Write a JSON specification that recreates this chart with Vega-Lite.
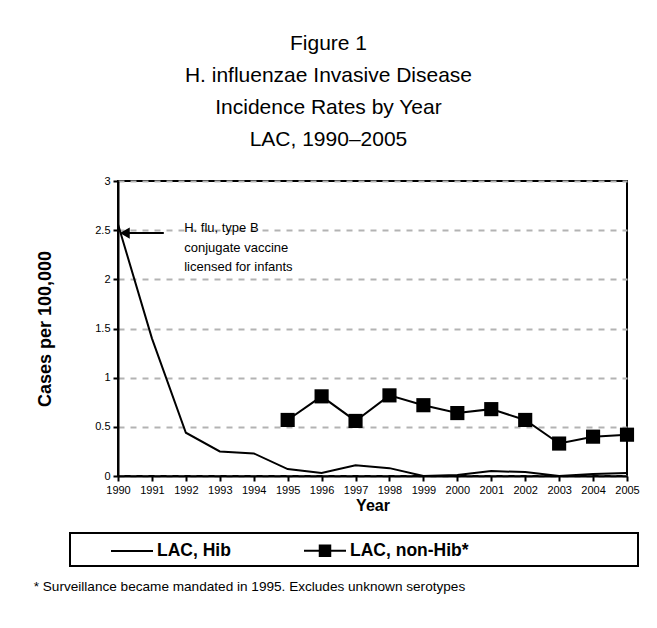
{
  "$schema": "https://vega.github.io/schema/vega-lite/v6.json",
  "padding": {"left": 32, "top": 33, "right": 10, "bottom": 5},
  "background": "white",
  "title": {
    "text": ["Figure 1", "H. influenzae Invasive Disease", "Incidence Rates by Year", "LAC, 1990–2005"],
    "fontSize": 21, "fontWeight": "normal", "lineHeight": 32, "anchor": "middle", "frame": "bounds", "offset": 24, "dx": -8, "color": "black", "font": "Liberation Sans"
  },
  "vconcat": [
    {
      "width": 509,
      "height": 295,
      "title": {
        "text": "* Surveillance became mandated in 1995. Excludes unknown serotypes",
        "orient": "bottom", "anchor": "start", "frame": "bounds", "fontSize": 13.6, "fontWeight": "normal", "offset": 67, "dx": -3, "color": "black", "font": "Liberation Sans"
      },
      "encoding": {
        "x": {"field": "year", "type": "quantitative",
          "scale": {"domain": [1990, 2005], "nice": false, "zero": false},
          "axis": {"values": [1990,1991,1992,1993,1994,1995,1996,1997,1998,1999,2000,2001,2002,2003,2004,2005], "format": "d", "title": "Year", "titleFontSize": 16, "titleFontWeight": "bold", "titlePadding": 2, "labelPadding": 3, "labelOverlap": false, "labelFlush": false, "labelBound": false, "grid": false}},
        "y": {"field": "value", "type": "quantitative",
          "scale": {"domain": [0, 3], "nice": false},
          "axis": {"values": [0, 0.5, 1, 1.5, 2, 2.5, 3], "format": "~g", "title": "Cases per 100,000", "titleFontSize": 18, "titleFontWeight": "bold", "titlePadding": 40, "labelPadding": 3, "labelFlush": false}}
      },
      "layer": [
        {
          "data": {"values": [
            {"year": 1990, "value": 2.56, "series": "LAC, Hib"},
            {"year": 1991, "value": 1.40, "series": "LAC, Hib"},
            {"year": 1992, "value": 0.44, "series": "LAC, Hib"},
            {"year": 1993, "value": 0.25, "series": "LAC, Hib"},
            {"year": 1994, "value": 0.23, "series": "LAC, Hib"},
            {"year": 1995, "value": 0.07, "series": "LAC, Hib"},
            {"year": 1996, "value": 0.03, "series": "LAC, Hib"},
            {"year": 1997, "value": 0.11, "series": "LAC, Hib"},
            {"year": 1998, "value": 0.08, "series": "LAC, Hib"},
            {"year": 1999, "value": 0.0, "series": "LAC, Hib"},
            {"year": 2000, "value": 0.01, "series": "LAC, Hib"},
            {"year": 2001, "value": 0.05, "series": "LAC, Hib"},
            {"year": 2002, "value": 0.04, "series": "LAC, Hib"},
            {"year": 2003, "value": 0.0, "series": "LAC, Hib"},
            {"year": 2004, "value": 0.02, "series": "LAC, Hib"},
            {"year": 2005, "value": 0.03, "series": "LAC, Hib"},
            {"year": 1995, "value": 0.57, "series": "LAC, non-Hib*"},
            {"year": 1996, "value": 0.81, "series": "LAC, non-Hib*"},
            {"year": 1997, "value": 0.56, "series": "LAC, non-Hib*"},
            {"year": 1998, "value": 0.82, "series": "LAC, non-Hib*"},
            {"year": 1999, "value": 0.72, "series": "LAC, non-Hib*"},
            {"year": 2000, "value": 0.64, "series": "LAC, non-Hib*"},
            {"year": 2001, "value": 0.68, "series": "LAC, non-Hib*"},
            {"year": 2002, "value": 0.57, "series": "LAC, non-Hib*"},
            {"year": 2003, "value": 0.33, "series": "LAC, non-Hib*"},
            {"year": 2004, "value": 0.40, "series": "LAC, non-Hib*"},
            {"year": 2005, "value": 0.42, "series": "LAC, non-Hib*"}
          ]},
          "layer": [
            {
              "mark": {"type": "line", "strokeWidth": 2},
              "encoding": {
                "color": {"field": "series", "type": "nominal",
                  "scale": {"domain": ["LAC, Hib", "LAC, non-Hib*", "pad"], "range": ["black", "black", "white"]},
                  "legend": {
                    "title": null, "orient": "none", "legendX": -48, "legendY": 352, "direction": "horizontal",
                    "strokeColor": "black", "padding": 6, "symbolOffset": 44.5, "columnPadding": 38,
                    "labelFontSize": 17.5, "labelFontWeight": "bold", "labelColor": "black", "labelOffset": 13.5,
                    "symbolSize": 441, "symbolStrokeWidth": 2,
                    "labelExpr": "datum.value == 'pad' ? 'MMM' : datum.label",
                    "encode": {
                      "legend": {"update": {"strokeWidth": {"value": 2}}},
                      "labels": {"update": {"opacity": {"signal": "datum.value == 'pad' ? 0 : 1"}}},
                      "symbols": {"update": {
                        "shape": {"signal": "datum.value == 'LAC, non-Hib*' ? 'M-2,0H2M-0.5,-0.5H0.5V0.5H-0.5Z' : 'M-2,0H2'"},
                        "fill": {"value": "black"}, "stroke": {"value": "black"}, "strokeWidth": {"value": 2},
                        "opacity": {"signal": "datum.value == 'pad' ? 0 : 1"}
                      }}
                    }
                  }}
              }
            },
            {
              "transform": [{"filter": "datum.series == 'LAC, non-Hib*'"}],
              "mark": {"type": "square", "filled": true, "color": "black", "size": 200, "opacity": 1},
              "encoding": {}
            }
          ]
        },
        {
          "data": {"values": [{"year": 1990.12, "year2": 1991.35, "value": 2.47}]},
          "mark": {"type": "rule", "color": "black", "strokeWidth": 2},
          "encoding": {
            "x2": {"field": "year2"}
          }
        },
        {
          "data": {"values": [{"year": 1990.2, "value": 2.47}]},
          "mark": {"type": "point", "shape": "triangle-left", "filled": true, "color": "black", "size": 130, "opacity": 1},
          "encoding": {}
        },
        {
          "data": {"values": [{"year": 1991.95, "value": 2.58, "label": "H. flu, type B\nconjugate vaccine\nlicensed for infants"}]},
          "mark": {"type": "text", "align": "left", "baseline": "top", "fontSize": 13, "lineHeight": 19.5, "lineBreak": "\n", "color": "black", "font": "Liberation Sans"},
          "encoding": {
            "text": {"field": "label"}
          }
        }
      ]
    }
  ],
  "config": {
    "font": "Liberation Sans",
    "view": {"stroke": "black", "strokeWidth": 2},
    "axis": {"domainColor": "black", "domainWidth": 2, "tickColor": "black", "tickWidth": 2, "tickSize": 5, "labelColor": "black", "labelFontSize": 11, "titleColor": "black", "labelFont": "Liberation Sans", "titleFont": "Liberation Sans"},
    "axisY": {"gridColor": "#b3b3b3", "gridDash": [6, 6], "gridWidth": 2},
    "legend": {"labelFont": "Liberation Sans"}
  }
}
